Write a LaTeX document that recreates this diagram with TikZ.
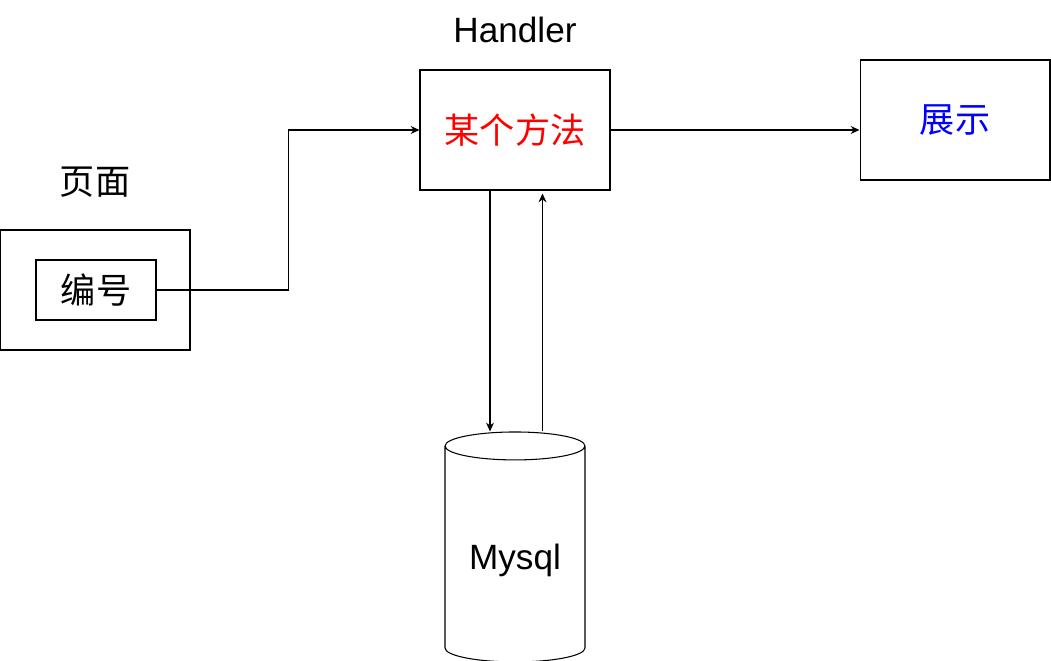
\documentclass[tikz,border=0pt]{standalone}
\usepackage{fontspec}
\setmainfont{Liberation Sans}
\newfontfamily\cjk{Noto Sans CJK SC}
\usetikzlibrary{shapes.geometric,arrows.meta}

\begin{document}
\begin{tikzpicture}[x=.02cm, y=-.02cm, line width=.6pt,
  box/.style={draw, minimum width=3.8cm, minimum height=2.4cm},
  lbl/.style={font=\fontsize{20}{24}\selectfont},
  arr/.style={-{Stealth[length=5pt, width=4.5pt]}}]
\useasboundingbox (0,0) rectangle (1051,661);
% page with its field
\node[box] (page) at (95,290) {};
\node[lbl] (pagelbl) at (95,182) {\cjk 页面};
\node[draw, lbl, minimum width=2.4cm, minimum height=1.2cm] (num) at (96,290) {\cjk 编号};
% handler and result
\node[box, lbl, text=red] (handler) at (515,130) {\cjk 某个方法};
\node[lbl] (handlerlbl) at (515,30) {Handler};
\node[box, lbl, text=blue] (show) at (955,120) {\cjk 展示};
% database
\node[draw, lbl, cylinder, shape border rotate=90, aspect=.27, text height=18.5pt,
  minimum width=2.8cm, minimum height=4.6cm] (db) at (515,557) {Mysql};
\draw[arr] (num.east) -- ++(132,0) |- (handler.west);
\draw[arr] (handler.east) -- (show.west |- handler.east);
\draw[arr] ([xshift=-.5cm]handler.south) -- ([xshift=-.5cm]handler.south |- db.north);
\draw[arr] ([xshift=.55cm]handler.south |- db.north) -- ([xshift=.55cm, yshift=-.06cm]handler.south);
\end{tikzpicture}
\end{document}
